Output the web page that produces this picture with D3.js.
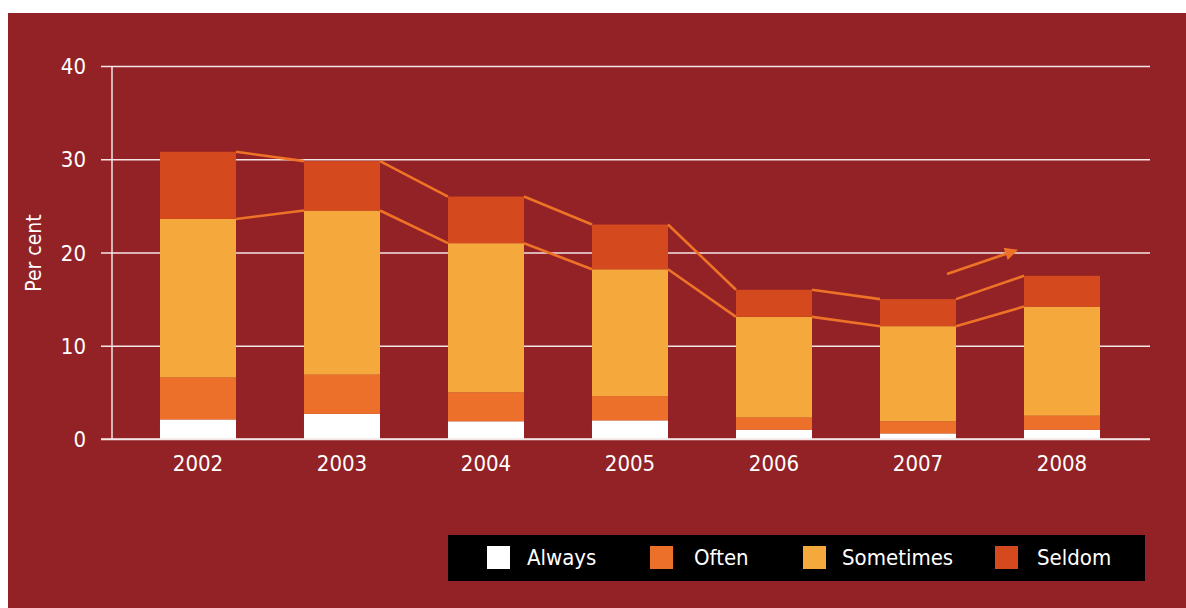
<!DOCTYPE html>
<html>
<head>
<meta charset="utf-8">
<script src="https://cdn.jsdelivr.net/npm/d3@7"></script>
<style>
  html, body { margin: 0; padding: 0; background: #ffffff; }
  svg { display: block; }
  text { font-family: "Liberation Sans Narrow", "DejaVu Sans Condensed", "Roboto", sans-serif; fill: #ffffff; }
</style>
</head>
<body>
<svg id="chart" width="1186" height="608"></svg>
<script>
// Share of respondents by frequency, per survey year (per cent)
const years = ["2002", "2003", "2004", "2005", "2006", "2007", "2008"];
const always    = [2.1, 2.7, 1.9, 2.0, 1.0, 0.6, 1.0];
const often     = [4.5, 4.2, 3.1, 2.6, 1.3, 1.3, 1.5];
const sometimes = [17.0, 17.6, 16.0, 13.6, 10.8, 10.2, 11.7];
const seldom    = [7.2, 5.3, 5.0, 4.8, 2.9, 2.9, 3.3];

const seriesNames = ["Always", "Often", "Sometimes", "Seldom"];
const seriesColors = ["#ffffff", "#ec7029", "#f5a93d", "#d44a1e"];
const yTicks = [0, 10, 20, 30, 40];

const rows = years.map((y, i) => ({
  year: y,
  Always: always[i], Often: often[i], Sometimes: sometimes[i], Seldom: seldom[i]
}));

const svg = d3.select("#chart");

// panel background
svg.append("rect")
  .attr("x", 8).attr("y", 13)
  .attr("width", 1178).attr("height", 595)
  .attr("fill", "#922226");

const x = d3.scaleBand().domain(years).range([126, 1134]).paddingInner(0.472).paddingOuter(0.236);
const y = d3.scaleLinear().domain([0, 40]).range([439, 66]);

// horizontal grid with left tick stubs
const yAxis = d3.axisLeft(y).tickValues(yTicks).tickSize(-(1150 - 101)).tickPadding(15);
const gy = svg.append("g").attr("transform", "translate(101,0)").call(yAxis);
gy.select(".domain").remove();
gy.selectAll(".tick line").attr("stroke", "#f3e6e6").attr("stroke-width", 1.5);
gy.selectAll(".tick text")
  .attr("font-size", 22)
  .attr("fill", "#ffffff")
  .attr("dy", "0.35em");

// vertical axis line
svg.append("line")
  .attr("x1", 112).attr("x2", 112)
  .attr("y1", y(40)).attr("y2", y(0))
  .attr("stroke", "#f3e6e6").attr("stroke-width", 1.5);

// stacked bars
const stack = d3.stack().keys(seriesNames);
const layers = stack(rows);
const color = d3.scaleOrdinal().domain(seriesNames).range(seriesColors);

svg.append("g").selectAll("g")
  .data(layers)
  .join("g")
  .attr("fill", d => color(d.key))
  .selectAll("rect")
  .data(d => d)
  .join("rect")
  .attr("x", d => x(d.data.year))
  .attr("width", x.bandwidth())
  .attr("y", d => y(d[1]))
  .attr("height", d => y(d[0]) - y(d[1]));

// baseline
svg.append("line")
  .attr("x1", 101).attr("x2", 1150)
  .attr("y1", y(0)).attr("y2", y(0))
  .attr("stroke", "#f3e6e6").attr("stroke-width", 1.5);

// connector lines between bar tops (Sometimes top and Seldom top)
const lineColor = "#ee7326";
function connectors(layer) {
  const segs = [];
  for (let i = 0; i < layer.length - 1; i++) {
    segs.push({
      x1: x(years[i]) + x.bandwidth(), y1: y(layer[i][1]),
      x2: x(years[i + 1]), y2: y(layer[i + 1][1])
    });
  }
  return segs;
}
const connG = svg.append("g");
[layers[2], layers[3]].forEach(layer => {
  connG.selectAll(null)
    .data(connectors(layer))
    .join("line")
    .attr("x1", d => d.x1).attr("y1", d => d.y1)
    .attr("x2", d => d.x2).attr("y2", d => d.y2)
    .attr("stroke", lineColor).attr("stroke-width", 2.6);
});

// trend arrow between 2007 and 2008
const ax1 = x("2007") + x.bandwidth() - 9, ay1 = y(17.7);
const ax2 = x("2008") - 6, ay2 = y(20.3);
const ang = Math.atan2(ay2 - ay1, ax2 - ax1);
const headLen = 13, headHalf = 6.5;
const bx = ax2 - headLen * Math.cos(ang), by = ay2 - headLen * Math.sin(ang);
svg.append("line")
  .attr("x1", ax1).attr("y1", ay1)
  .attr("x2", bx).attr("y2", by)
  .attr("stroke", lineColor).attr("stroke-width", 2.6);
svg.append("path")
  .attr("d", d3.line()([
    [ax2, ay2],
    [bx + headHalf * Math.sin(ang), by - headHalf * Math.cos(ang)],
    [bx - headHalf * Math.sin(ang), by + headHalf * Math.cos(ang)]
  ]) + "Z")
  .attr("fill", lineColor);

// year labels
const xAxis = d3.axisBottom(x).tickSize(0).tickPadding(16);
const gx = svg.append("g").attr("transform", `translate(0,${y(0)})`).call(xAxis);
gx.select(".domain").remove();
gx.selectAll(".tick text").attr("font-size", 22).attr("fill", "#ffffff");

// y-axis title
svg.append("text")
  .attr("transform", "translate(41,253) rotate(-90)")
  .attr("text-anchor", "middle")
  .attr("font-size", 21)
  .text("Per cent");

// legend
const legend = svg.append("g");
legend.append("rect")
  .attr("x", 448).attr("y", 535)
  .attr("width", 697).attr("height", 46)
  .attr("fill", "#000000");
const legendX = [487, 650, 803, 995];
const legendTextX = [527, 694, 842, 1037];
seriesNames.forEach((name, i) => {
  legend.append("rect")
    .attr("x", legendX[i]).attr("y", 546)
    .attr("width", 23).attr("height", 23)
    .attr("fill", color(name));
  legend.append("text")
    .attr("x", legendTextX[i]).attr("y", 565)
    .attr("font-size", 22)
    .text(name);
});
</script>
</body>
</html>
